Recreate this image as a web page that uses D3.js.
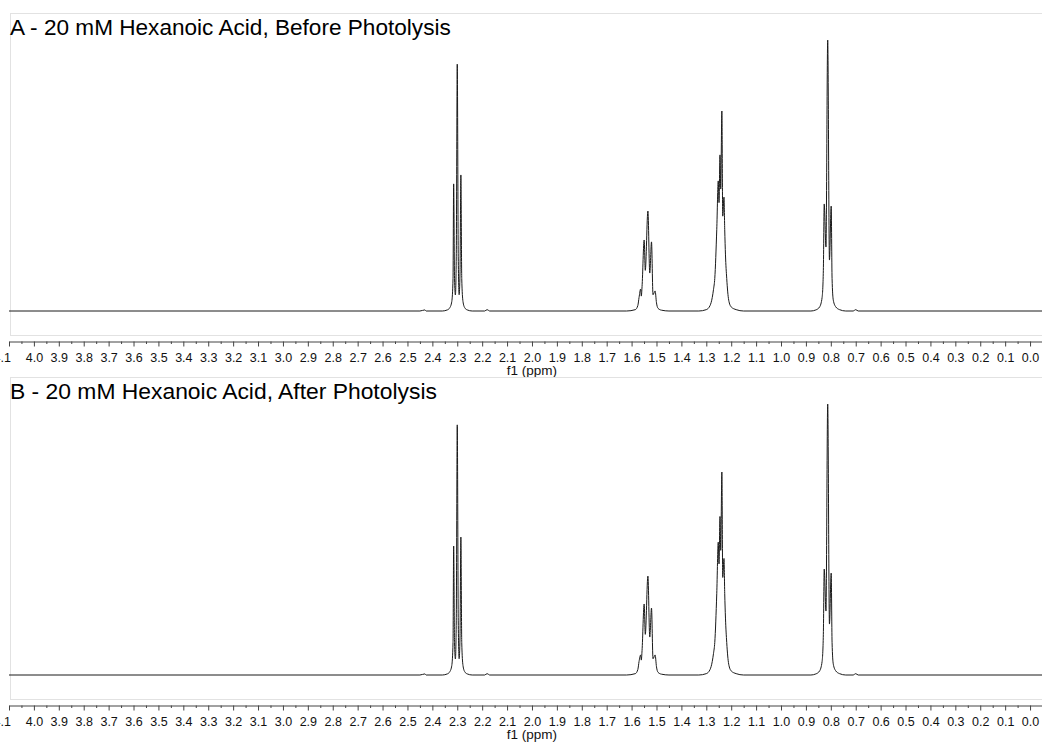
<!DOCTYPE html>
<html>
<head>
<meta charset="utf-8">
<script src="https://cdn.jsdelivr.net/npm/d3@7.9.0/dist/d3.min.js"></script>
<style>
  body { margin: 0; background: #fff; }
  svg { display: block; }
  text { font-family: "Liberation Sans", Arial, sans-serif; }
</style>
</head>
<body>
<svg id="chart" width="1042" height="742"></svg>
<script>
const titles = [
  'A - 20 mM Hexanoic Acid, Before Photolysis',
  'B - 20 mM Hexanoic Acid, After Photolysis'
];
const axisTitle = 'f1 (ppm)';

// spectrum traces: chemical shift (ppm) and intensity (% of tallest line)
const ppmA = [4.10, 2.45, 2.43, 2.425, 2.36, 2.34, 2.33, 2.322, 2.317, 2.3145, 2.311, 2.3075, 2.304, 2.300, 2.296, 2.2925, 2.289, 2.2855, 2.282, 2.277, 2.27, 2.26, 2.24,
  2.19, 2.18, 2.17, 1.62, 1.585, 1.575, 1.57, 1.5635, 1.561, 1.558, 1.5495, 1.545, 1.5345, 1.527, 1.520, 1.514, 1.5055, 1.50, 1.494, 1.48, 1.45,
  1.33, 1.30, 1.285, 1.276, 1.271, 1.266, 1.258, 1.252, 1.249, 1.245, 1.242, 1.2375, 1.234, 1.229, 1.226, 1.223, 1.218, 1.21, 1.20, 1.18, 1.15,
  0.88, 0.86, 0.845, 0.835, 0.830, 0.8265, 0.8195, 0.8125, 0.8055, 0.7985, 0.795, 0.79, 0.78, 0.765, 0.74, 0.71, 0.70, 0.69, -0.05];
const intA = [0, 0, 0.4, 0, 0, 0.4, 1.2, 3.5, 12, 46.9, 12, 5.9, 20, 91.1, 20, 6, 14, 50.2, 12, 3.5, 1.2, 0.4, 0,
  0, 0.5, 0, 0, 0.5, 2, 5, 8.1, 5.5, 9, 26.2, 15, 36.9, 14, 25.5, 6, 7.4, 3, 1, 0.3, 0,
  0, 0.5, 2, 5, 8, 12, 30, 48, 40, 57.6, 45, 73.8, 35, 42, 30, 20.7, 12, 4, 1.5, 0.5, 0,
  0, 0.4, 1.5, 5, 15, 39.5, 23.6, 100, 18.8, 38.7, 12, 4, 1.5, 0.5, 0, 0, 0.5, 0, 0];

const ppmB = ppmA;
const intB = [0, 0, 0.4, 0, 0, 0.4, 1.2, 3.5, 12, 47.6, 12, 5.9, 20, 92.3, 20, 6, 14, 50.9, 12, 3.5, 1.2, 0.4, 0,
  0, 0.5, 0, 0, 0.5, 2, 5, 7.4, 5.5, 9, 26.2, 15, 36.5, 14, 24.7, 6, 7.4, 3, 1, 0.3, 0,
  0, 0.5, 2, 5, 8, 12, 30, 49, 41, 58.5, 46, 74.9, 36, 43, 30, 21, 12, 4, 1.5, 0.5, 0,
  0, 0.4, 1.5, 5, 15, 39.1, 23.6, 100, 18.8, 37.6, 12, 4, 1.5, 0.5, 0, 0, 0.5, 0, 0];

const majorTicks = d3.range(0, 42).map(i => +(i * 0.1).toFixed(1));
const minorTicks = d3.range(0, 41).map(i => +(i * 0.1 + 0.05).toFixed(2));

const svg = d3.select('#chart');
const x = d3.scaleLinear().domain([4.1, -0.05]).range([9, 1042.5]);

const panels = [
  { title: titles[0], ppm: ppmA, val: intA, dy: 0 },
  { title: titles[1], ppm: ppmB, val: intB, dy: 364 }
];

panels.forEach(p => {
  const g = svg.append('g').attr('transform', `translate(0,${p.dy})`);

  // light frame around the plot area
  g.append('rect')
    .attr('x', 10.5).attr('y', 13.5)
    .attr('width', 1100).attr('height', 322)
    .attr('fill', 'none').attr('stroke', '#e2e2e2');

  const title = g.append('text')
    .attr('x', 10).attr('y', 35)
    .attr('font-size', 22)
    .attr('fill', '#000')
    .text(p.title);
  const len = title.node().getComputedTextLength();
  title.attr('font-size', 22 * (p.dy ? 427 : 441) / len);

  const y = d3.scaleLinear().domain([0, 100]).range([311, 40]);

  const line = d3.line()
    .x((d, i) => x(p.ppm[i]))
    .y((d, i) => y(p.val[i]))
    .curve(d3.curveMonotoneX);

  g.append('path')
    .attr('d', line(p.ppm))
    .attr('fill', 'none')
    .attr('stroke', '#1a1a1a')
    .attr('stroke-width', 1);

  // axis: minor ticks then labelled major ticks
  const ax = g.append('g').attr('transform', 'translate(0,341.5)');
  ax.append('g')
    .call(d3.axisBottom(x).tickValues(minorTicks).tickSize(2.5).tickSizeOuter(0).tickFormat(''))
    .call(s => s.select('.domain').remove())
    .selectAll('line').attr('stroke', '#444');
  const major = ax.append('g')
    .call(d3.axisBottom(x).tickValues(majorTicks).tickSize(5).tickSizeOuter(0)
      .tickPadding(7).tickFormat(d3.format('.1f')));
  major.select('.domain').attr('stroke', '#444');
  major.selectAll('line').attr('stroke', '#444');
  major.selectAll('text')
    .attr('font-size', 12.5)
    .attr('fill', '#111')
    .attr('font-family', '"Liberation Sans", Arial, sans-serif');
  // the edge label is pushed left and cut by the border, as in the source
  major.selectAll('.tick').filter(d => d === 4.1).select('text')
    .attr('text-anchor', 'end').attr('dx', 1.5);

  g.append('text')
    .attr('x', x(2.0)).attr('y', 374.5)
    .attr('text-anchor', 'middle')
    .attr('font-size', 13.5)
    .attr('fill', '#111')
    .text(axisTitle);
});
</script>
</body>
</html>
